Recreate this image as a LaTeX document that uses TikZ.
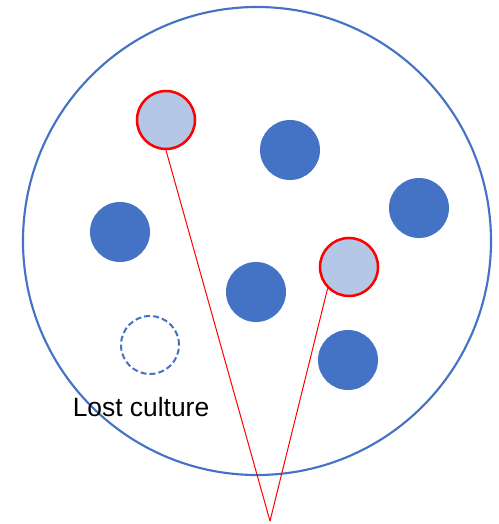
\documentclass[tikz,border=0pt]{standalone}
\usepackage{fontspec}
\setmainfont{Liberation Sans}
\usetikzlibrary{calc}
\definecolor{dishblue}{HTML}{4472C4}
\definecolor{paleblue}{HTML}{B4C7E7}
\definecolor{tracered}{HTML}{FF0000}
\tikzset{
	culture/.style={circle, inner sep=0pt, minimum size=60*0.75pt, fill=dishblue},
	tracked/.style={circle, inner sep=0pt, minimum size=58*0.75pt, fill=paleblue, draw=tracered, line width=1.9pt},
	lostone/.style={circle, inner sep=0pt, minimum size=58*0.75pt, draw=dishblue, dash pattern=on 4.5pt off 2.3pt, line width=1.5pt},
	trace/.style={draw=tracered, line width=0.75pt}
}

\begin{document}
\begin{tikzpicture}[x=0.75pt, y=-0.75pt]
			%%%%% START %%%%%
			\useasboundingbox (0, 0) rectangle (499, 524);
			
			\node[circle, inner sep=0pt, minimum size=468*0.75pt, draw=dishblue, line width=1.6pt] (dish) at (257, 241) {};
			
			\node[culture] (cult1) at (290, 150) {};
			\node[culture] (cult2) at (120, 232) {};
			\node[culture] (cult3) at (419, 208) {};
			\node[culture] (cult4) at (256, 292) {};
			\node[culture] (cult5) at (348, 360) {};
			
			\node[tracked] (mark1) at (166, 120) {};
			\node[tracked] (mark2) at (349, 267) {};
			
			\node[lostone] (gone) at (150, 345) {};
			\node[font=\fontsize{19.8}{23}\selectfont] (gonelabel) at (141, 407) {Lost culture};
			
			\coordinate (tip) at (270, 521);
			\draw[trace] (tip) -- (mark1.south);
			\draw[trace] (tip) -- (mark2.225);
			
			%%%%% END %%%%%
\end{tikzpicture}
\end{document}
